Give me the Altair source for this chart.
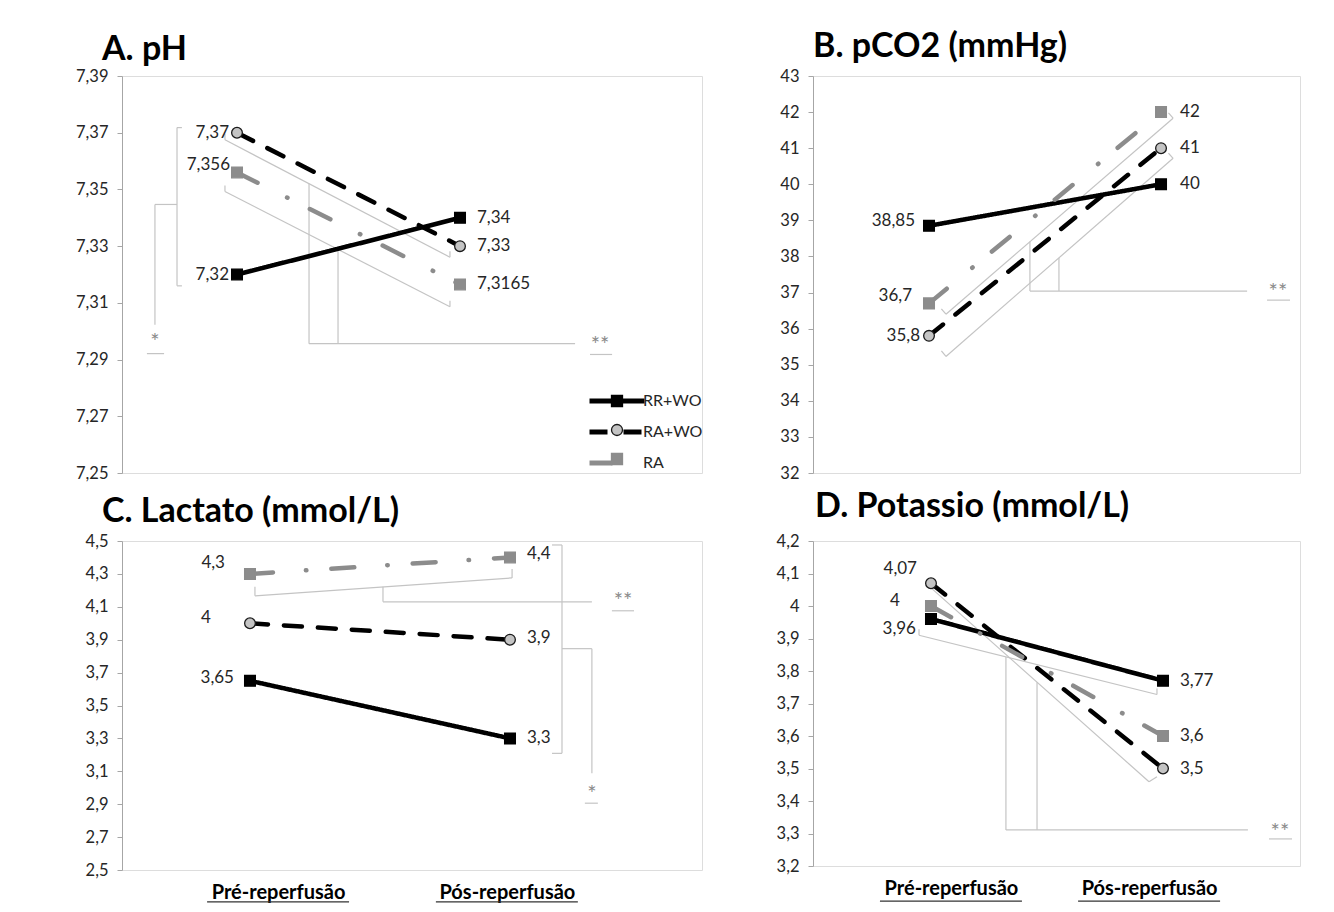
import altair as alt
import pandas as pd

# ---------------- data ----------------
GROUPS = ["RR+WO", "RA+WO", "RA"]
X_LABELS = ["Pré-reperfusão", "Pós-reperfusão"]

PH_PRE = [7.32, 7.37, 7.356]
PH_POS = [7.34, 7.33, 7.3165]
PCO2_PRE = [38.85, 35.8, 36.7]
PCO2_POS = [40, 41, 42]
LAC_PRE = [3.65, 4.0, 4.3]
LAC_POS = [3.3, 3.9, 4.4]
K_PRE = [3.96, 4.07, 4.0]
K_POS = [3.77, 3.5, 3.6]

PH_TICKS = [7.25, 7.27, 7.29, 7.31, 7.33, 7.35, 7.37, 7.39]
PCO2_TICKS = [32, 33, 34, 35, 36, 37, 38, 39, 40, 41, 42, 43]
LAC_TICKS = [2.5, 2.7, 2.9, 3.1, 3.3, 3.5, 3.7, 3.9, 4.1, 4.3, 4.5]
K_TICKS = [3.2, 3.3, 3.4, 3.5, 3.6, 3.7, 3.8, 3.9, 4.0, 4.1, 4.2]

# significance annotations (data units): brackets as segments x, y, x2, y2
PH_BRACKETS = [
    (-0.269, 7.3718, -0.247, 7.3718), (-0.269, 7.3718, -0.269, 7.3160),
    (-0.269, 7.3160, -0.247, 7.3160), (-0.269, 7.3447, -0.368, 7.3447),
    (-0.368, 7.3447, -0.368, 7.3023),
    (-0.054, 7.3696, -0.054, 7.3675), (-0.054, 7.3675, 0.955, 7.3261), (0.955, 7.3261, 0.955, 7.3282),
    (-0.054, 7.3514, -0.054, 7.3493), (-0.054, 7.3493, 0.955, 7.3086), (0.955, 7.3086, 0.955, 7.3107),
    (0.323, 7.3521, 0.323, 7.2956), (0.453, 7.3289, 0.453, 7.2956), (0.323, 7.2956, 1.516, 7.2956),
    (-0.404, 7.2921, -0.327, 7.2921), (1.583, 7.2918, 1.682, 7.2918),
]
PH_STARS = [("*", -0.368, 7.2962), ("**", 1.628, 7.2952)]

PCO2_BRACKETS = [
    (0.0534, 36.546, 0.073, 36.40), (0.073, 36.40, 1.052, 41.83), (1.052, 41.83, 1.032, 41.978),
    (0.0534, 35.383, 0.073, 35.23), (0.073, 35.23, 1.052, 40.72), (1.052, 40.72, 1.032, 40.864),
    (0.435, 38.41, 0.435, 37.04), (0.560, 37.96, 0.560, 37.04), (0.435, 37.04, 1.371, 37.04),
    (1.457, 36.79, 1.556, 36.79),
]
PCO2_STARS = [("**", 1.504, 37.02)]

LAC_BRACKETS = [
    (0.019, 4.2212, 0.019, 4.1667), (0.019, 4.1667, 1.008, 4.2758), (1.008, 4.2758, 1.008, 4.3303),
    (0.5115, 4.2212, 0.5115, 4.1303), (0.5115, 4.1303, 1.315, 4.1303),
    (1.1615, 4.4758, 1.2, 4.4758), (1.2, 4.4758, 1.2, 3.2091), (1.1615, 3.2091, 1.2, 3.2091),
    (1.2, 3.8455, 1.315, 3.8455), (1.315, 3.8455, 1.315, 3.0879),
    (1.392, 4.0758, 1.477, 4.0758), (1.288, 2.9061, 1.338, 2.9061),
]
LAC_STARS = [("**", 1.435, 4.135), ("*", 1.315, 2.965)]

K_BRACKETS = [
    (-0.0517, 3.9284, -0.0517, 3.9099), (-0.0517, 3.9099, 0.974, 3.7278), (0.974, 3.7278, 0.974, 3.7463),
    (-0.0086, 4.0611, 0.9397, 3.4593), (0.9397, 3.4593, 0.974, 3.4747),
    (0.323, 3.8432, 0.323, 3.3111), (0.457, 3.7657, 0.457, 3.3111), (0.323, 3.3111, 1.366, 3.3111),
    (1.457, 3.2833, 1.556, 3.2833),
]
K_STARS = [("**", 1.504, 3.305)]

# x category label positions and their underlines
LAC_XLAB_POS = [0.108, 0.988]
LAC_XLAB_UNDER = [(-0.165, 2.306, 0.381, 2.306), (0.715, 2.306, 1.261, 2.306)]
K_XLAB_POS = [0.086, 0.94]
K_XLAB_UNDER = [(-0.22, 3.092, 0.392, 3.092), (0.634, 3.092, 1.246, 3.092)]

# value-label nudges in pixels (dx, dy) per group
NUDGE = {
    "A": ([(-8, 0), (-8, 0), (-7, -7)], [(17, 0), (17, 0), (17, 0)]),
    "B": ([(-14, -5), (-9, 0), (-17, -7)], [(19, 0), (19, 0), (19, 0)]),
    "C": ([(-16, -3), (-39, -5), (-25, -11)], [(17, 0), (17, -2), (17, -3)]),
    "D": ([(-15, 10), (-14, -14), (-31, -5)], [(17, 0), (17, 0), (17, 0)]),
}

# ---------------- style ----------------
FONT = "Lato"
TXT = "#262626"
AXIS_GRAY = "#a6a6a6"
BRACKET = "#c4c4c4"
STAR = "#8a8a8a"
RA_GRAY = "#8c8c8c"
PT_DOMAIN = ["pt " + g for g in GROUPS]

COLOR_SCALE = alt.Scale(domain=GROUPS, range=["#000000", "#000000", RA_GRAY])
DASH_SCALE = alt.Scale(domain=GROUPS, range=[[1, 0], [18, 16], [23, 33, 0.5, 25]])
SHAPE_SCALE = alt.Scale(domain=PT_DOMAIN, range=["square", "circle", "square"])
FILL_SCALE = alt.Scale(domain=PT_DOMAIN, range=["#000000", "#c4c4c4", RA_GRAY])
STROKE_SCALE = alt.Scale(domain=PT_DOMAIN, range=["#000000", "#1a1a1a", RA_GRAY])

LEG_X, LEG_Y = 487, 317
LEG1 = alt.Legend(title=None, orient="none", legendX=LEG_X, legendY=LEG_Y,
                  symbolType="M-5,0H5", symbolSize=121, symbolStrokeWidth=5,
                  labelFont=FONT, labelFontSize=16, labelColor=TXT, labelOffset=18,
                  rowPadding=11, padding=0)
LEG2 = alt.Legend(title=None, orient="none", legendX=LEG_X, legendY=LEG_Y,
                  symbolSize=121, symbolStrokeWidth=1.3,
                  labelFont=FONT, labelFontSize=16, labelExpr="''", labelOffset=18,
                  rowPadding=11, padding=0)


def fmt(v):
    return f"{v:g}".replace(".", ",")


def make_panel(title, title_dx, title_offset, pre, post, key, ydom, yticks, xdom,
               width, height, brackets, stars, xlab_pos=None, xlab_under=None):
    npre, npost = NUDGE[key]
    ppx = width / (xdom[1] - xdom[0])
    ppy = height / (ydom[1] - ydom[0])
    rows = []
    for i, g in enumerate(GROUPS):
        for xv, vals, nud, side in ((0, pre, npre, "pre"), (1, post, npost, "post")):
            rows.append({"series": g, "series_pt": "pt " + g, "x": xv, "value": vals[i],
                         "label": fmt(vals[i]), "side": side,
                         "lx": xv + nud[i][0] / ppx, "ly": vals[i] - nud[i][1] / ppy})
    df = pd.DataFrame(rows)

    xs = alt.Scale(domain=xdom, nice=False, zero=False)
    ys = alt.Scale(domain=ydom, nice=False, zero=False)
    if xlab_pos is not None:
        expr = f"datum.value < 0.5 ? '{X_LABELS[0]}' : '{X_LABELS[1]}'"
        xaxis = alt.Axis(values=xlab_pos, labelExpr=expr, domain=False, ticks=False, grid=False,
                         labelFont=FONT, labelFontSize=20, labelFontWeight="bold",
                         labelColor="#000000", labelPadding=12, labelFlush=False,
                         labelOverlap=False, title=None)
    else:
        xaxis = None
    yaxis = alt.Axis(values=yticks, labelExpr="replace(format(datum.value, '~g'), '.', ',')",
                     grid=False, domainColor=AXIS_GRAY, tickColor=AXIS_GRAY, tickSize=5,
                     labelFont=FONT, labelFontSize=16.5, labelColor=TXT, labelPadding=9,
                     title=None)

    def X(f):
        return alt.X(f, scale=xs, axis=xaxis, title=None)

    def Y(f):
        return alt.Y(f, scale=ys, axis=yaxis, title=None)

    seg_df = pd.DataFrame(brackets, columns=["x", "y", "x2", "y2"])
    segs = alt.Chart(seg_df).mark_rule(color=BRACKET, strokeWidth=1.2).encode(
        x=X("x:Q"), y=Y("y:Q"), x2="x2:Q", y2="y2:Q")

    base = alt.Chart(df)
    lines = base.mark_line(strokeWidth=4.5, strokeCap="round", strokeJoin="round").encode(
        x=X("x:Q"), y=Y("value:Q"),
        color=alt.Color("series:N", scale=COLOR_SCALE, legend=LEG1),
        strokeDash=alt.StrokeDash("series:N", scale=DASH_SCALE, legend=LEG1),
    )
    points = base.mark_point(filled=True, size=115, strokeWidth=1.3, opacity=1).encode(
        x=X("x:Q"), y=Y("value:Q"),
        shape=alt.Shape("series_pt:N", scale=SHAPE_SCALE, legend=LEG2),
        fill=alt.Fill("series_pt:N", scale=FILL_SCALE, legend=LEG2),
        stroke=alt.Stroke("series_pt:N", scale=STROKE_SCALE, legend=LEG2),
    )
    lab_pre = base.transform_filter("datum.side == 'pre'").mark_text(
        align="right", baseline="middle", font=FONT, fontSize=17, color=TXT).encode(
        x=X("lx:Q"), y=Y("ly:Q"), text="label:N")
    lab_post = base.transform_filter("datum.side == 'post'").mark_text(
        align="left", baseline="middle", font=FONT, fontSize=17, color=TXT).encode(
        x=X("lx:Q"), y=Y("ly:Q"), text="label:N")

    star_df = pd.DataFrame(stars, columns=["t", "x", "y"])
    star_layer = alt.Chart(star_df).mark_text(
        color=STAR, font=FONT, fontSize=22, baseline="middle", align="center").encode(
        x=X("x:Q"), y=Y("y:Q"), text="t:N")

    layers = [segs, lines, points, lab_pre, lab_post, star_layer]
    if xlab_under is not None:
        ul_df = pd.DataFrame(xlab_under, columns=["x", "y", "x2", "y2"])
        layers.append(alt.Chart(ul_df).mark_rule(color="#333333", strokeWidth=1.3).encode(
            x=X("x:Q"), y=Y("y:Q"), x2="x2:Q", y2="y2:Q"))

    return alt.layer(*layers).properties(
        width=width, height=height,
        title=alt.TitleParams(text=title, anchor="start", frame="group", dx=title_dx,
                              offset=title_offset, font=FONT, fontSize=34,
                              fontWeight="bold", color="#000000"),
    )


A = make_panel("A. pH", -20, 1, PH_PRE, PH_POS, "A", [7.25, 7.39], PH_TICKS,
               [-0.5157, 2.0852], 580, 397, PH_BRACKETS, PH_STARS)
B = make_panel("B. pCO2 (mmHg)", 0, 4, PCO2_PRE, PCO2_POS, "B", [32, 43], PCO2_TICKS,
               [-0.5, 1.599], 487, 397, PCO2_BRACKETS, PCO2_STARS)
C = make_panel("C. Lactato (mmol/L)", -20, 4, LAC_PRE, LAC_POS, "C", [2.5, 4.5], LAC_TICKS,
               [-0.4923, 1.7385], 580, 329, LAC_BRACKETS, LAC_STARS,
               LAC_XLAB_POS, LAC_XLAB_UNDER)
D = make_panel("D. Potassio (mmol/L)", 2, 9, K_PRE, K_POS, "D", [3.2, 4.2], K_TICKS,
               [-0.5086, 1.5905], 487, 325, K_BRACKETS, K_STARS,
               K_XLAB_POS, K_XLAB_UNDER)

chart = (
    alt.concat(A, B, C, D, columns=2, spacing={"row": 68, "column": 111}, bounds="flush")
    .resolve_scale(x="independent", y="independent")
    .properties(padding={"left": 67, "top": 21, "right": 5, "bottom": 0})
    .configure_view(stroke=None)
    .configure(font=FONT)
)

chart.save("out.html", embed_options={"renderer": "svg", "actions": False})
